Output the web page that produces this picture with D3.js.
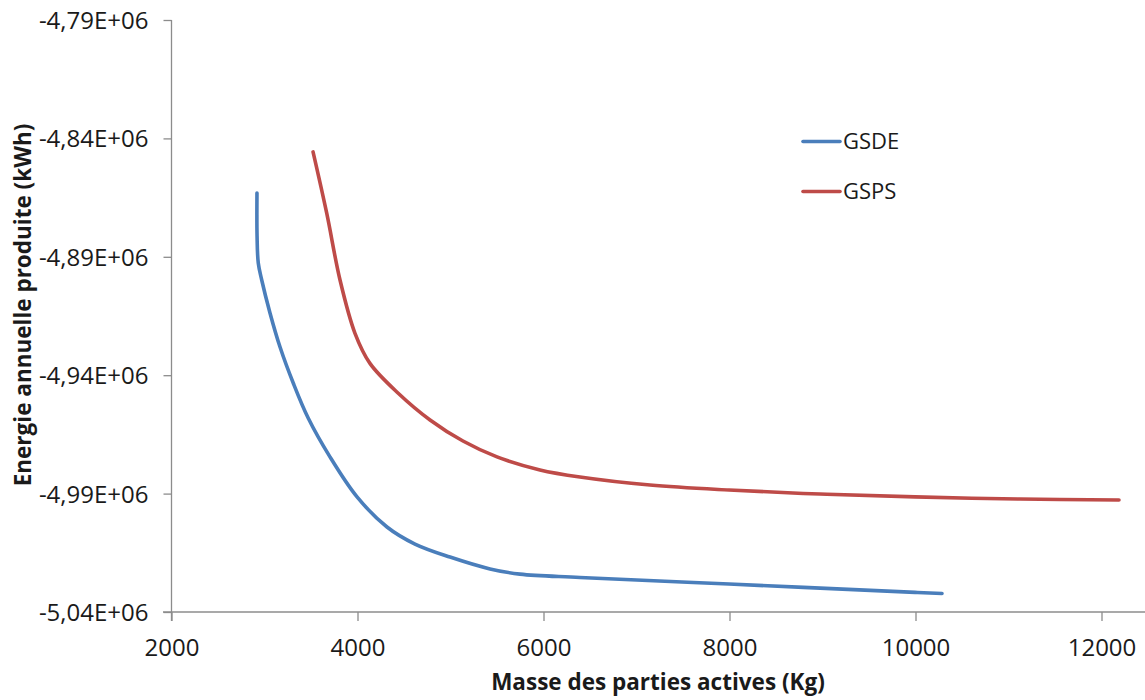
<!DOCTYPE html>
<html>
<head>
<meta charset="utf-8">
<script src="https://cdn.jsdelivr.net/npm/d3@7"></script>
<style>
  html, body { margin: 0; padding: 0; background: #fff; }
  svg { display: block; }
</style>
</head>
<body>
<svg id="chart" width="1145" height="700"></svg>
<script>
// ---- data ----
const gsdeMass = [2919, 2920, 2933, 2970, 3059, 3167, 3310, 3471, 3704, 3995, 4317, 4618, 4995, 5425, 5747, 6392, 7995, 9995, 10285];
const gsdeEnergy = [-4.8631e6, -4.8812e6, -4.8926e6, -4.8998e6, -4.9137e6, -4.9281e6, -4.9434e6, -4.9582e6, -4.9745e6, -4.9914e6, -5.0041e6, -5.0113e6, -5.0168e6, -5.0218e6, -5.0240e6, -5.0254e6, -5.0282e6, -5.0317e6, -5.0322e6];
const gspsMass = [3522, 3669, 3812, 3973, 4134, 4435, 4780, 5134, 5500, 5962, 6392, 7145, 7995, 8973, 9995, 11124, 12188];
const gspsEnergy = [-4.8457e6, -4.8716e6, -4.8998e6, -4.9223e6, -4.9350e6, -4.9475e6, -4.9589e6, -4.9678e6, -4.9745e6, -4.9800e6, -4.9830e6, -4.9864e6, -4.9885e6, -4.9902e6, -4.9914e6, -4.9923e6, -4.9927e6];
const seriesNames = ["GSDE", "GSPS"];
const xTicks = [2000, 4000, 6000, 8000, 10000, 12000];
const yTicks = [-4.79e6, -4.84e6, -4.89e6, -4.94e6, -4.99e6, -5.04e6];
const yTickLabels = ["-4,79E+06", "-4,84E+06", "-4,89E+06", "-4,94E+06", "-4,99E+06", "-5,04E+06"];
const xTitle = "Masse des parties actives (Kg)";
const yTitle = "Energie annuelle produite (kWh)";

// ---- layout ----
const colors = ["#4A7EBB", "#BE4B48"];
const axisColor = "#8C8C8C";
const textColor = "#1a1a1a";
const font = "'Open Sans', sans-serif";

const svg = d3.select("#chart");
const x0 = 171.5, xRight = 1145;
const x = d3.scaleLinear().domain([2000, 12000]).range([x0, 1101.5]);
const y = d3.scaleLinear().domain([-5.04e6, -4.79e6]).range([612, 20]);

// axes
const gy = svg.append("g").attr("transform", `translate(${x0},0)`);
gy.call(d3.axisLeft(y).tickValues(yTicks).tickSize(8).tickSizeOuter(0)
  .tickFormat((d, i) => yTickLabels[i]));
gy.select(".domain").remove();
gy.append("line").attr("x1", 0).attr("x2", 0).attr("y1", 20).attr("y2", 621)
  .attr("stroke", axisColor).attr("stroke-width", 1.3);
gy.selectAll(".tick line").attr("stroke", axisColor).attr("stroke-width", 1.3);
gy.selectAll(".tick text").attr("x", -23).attr("dy", "0.35em")
  .attr("font-family", font).attr("font-size", 24).attr("fill", textColor);

const gx = svg.append("g").attr("transform", `translate(0,612)`);
gx.call(d3.axisBottom(x).tickValues(xTicks).tickSize(9).tickSizeOuter(0).tickFormat(d3.format("d")));
gx.select(".domain").remove();
gx.append("line").attr("x1", 163).attr("x2", xRight).attr("y1", 0).attr("y2", 0)
  .attr("stroke", axisColor).attr("stroke-width", 1.3);
gx.selectAll(".tick line").attr("stroke", axisColor).attr("stroke-width", 1.3);
gx.selectAll(".tick text").attr("y", 27).attr("dy", "0.71em")
  .attr("font-family", font).attr("font-size", 24).attr("fill", textColor);

// lines
const series = [
  gsdeMass.map((m, i) => [m, gsdeEnergy[i]]),
  gspsMass.map((m, i) => [m, gspsEnergy[i]])
];
const line = d3.line().x(d => x(d[0])).y(d => y(d[1])).curve(d3.curveCatmullRom.alpha(0.5));
series.forEach((s, i) => {
  svg.append("path").datum(s).attr("d", line)
    .attr("fill", "none").attr("stroke", colors[i]).attr("stroke-width", 3.6)
    .attr("stroke-linecap", "round").attr("stroke-linejoin", "round");
});

// legend
seriesNames.forEach((n, i) => {
  const ly = 141.5 + i * 50;
  svg.append("line").attr("x1", 803).attr("x2", 840).attr("y1", ly).attr("y2", ly)
    .attr("stroke", colors[i]).attr("stroke-width", 3.6).attr("stroke-linecap", "round");
  svg.append("text").attr("x", 843).attr("y", ly).attr("dy", "0.36em")
    .attr("font-family", font).attr("font-size", 22).attr("fill", textColor).text(n);
});

// titles
svg.append("text").attr("x", 658).attr("y", 690).attr("text-anchor", "middle")
  .attr("font-family", font).attr("font-weight", "bold").attr("font-size", 22.5)
  .attr("fill", textColor).text(xTitle);
svg.append("text").attr("transform", "translate(31,305) rotate(-90)").attr("text-anchor", "middle")
  .attr("font-family", font).attr("font-weight", "bold").attr("font-size", 22.5)
  .attr("fill", textColor).text(yTitle);
</script>
</body>
</html>
